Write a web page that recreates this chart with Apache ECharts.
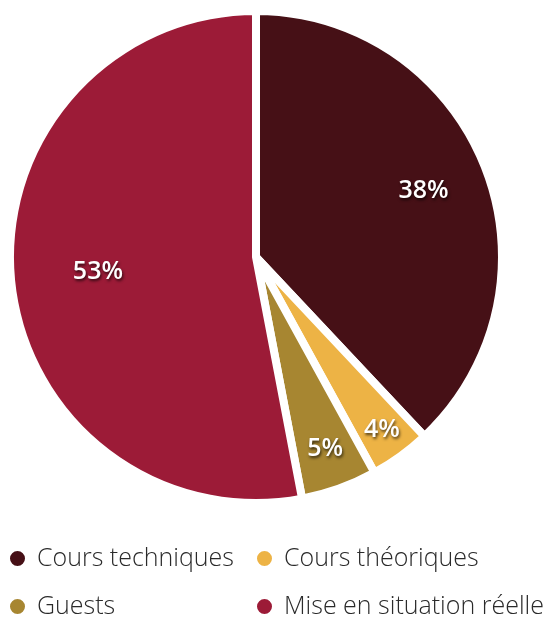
<!DOCTYPE html>
<html>
<head>
<meta charset="utf-8">
<script src="https://cdn.jsdelivr.net/npm/echarts@6/dist/echarts.min.js"></script>
<style>
html,body{margin:0;padding:0;background:#fff;}
#chart{width:560px;height:619px;}
</style>
</head>
<body>
<div id="chart"></div>
<script>
const categories = ['Cours techniques', 'Cours théoriques', 'Guests', 'Mise en situation réelle'];
const values = [38, 4, 5, 53];
const colors = ['#461016', '#EDB345', '#A78631', '#9C1B37'];
const labelRadiusFactor = [1.43, 1.70, 1.62, 1.26];
const legendSlots = [[8, 546], [255, 546], [8, 594], [255, 594]];

const cx = 256, cy = 257;
const chart = echarts.init(document.getElementById('chart'));
const legendText = { fontFamily: 'Open Sans', fontSize: 25, fontWeight: 300, color: '#2a2a2a', padding: [0, 0, 0, 6] };
chart.setOption({
  animation: false,
  legend: categories.map((n, i) => ({
    left: legendSlots[i][0], top: legendSlots[i][1], icon: 'circle', itemWidth: 17, itemHeight: 17,
    padding: 0, textStyle: legendText, data: [n]
  })),
  series: [{
    type: 'pie',
    center: [cx, cy],
    radius: [0, 246],
    startAngle: 90,
    clockwise: true,
    itemStyle: { borderColor: '#fff', borderWidth: 8 },
    label: {
      position: 'inside',
      formatter: '{c}%',
      color: '#fff',
      fontFamily: 'Open Sans',
      fontWeight: 600,
      fontSize: 25,
      textShadowColor: 'rgba(0,0,0,0.7)',
      textShadowBlur: 3,
      textShadowOffsetX: 1,
      textShadowOffsetY: 2
    },
    labelLine: { show: false },
    emphasis: { disabled: true },
    labelLayout: function (p) {
      const r = p.labelRect;
      const lx = r.x + r.width / 2, ly = r.y + r.height / 2;
      const k = labelRadiusFactor[p.dataIndex];
      return { x: cx + (lx - cx) * k, y: cy + (ly - cy) * k };
    },
    data: categories.map((n, i) => ({ name: n, value: values[i], itemStyle: { color: colors[i] } }))
  }]
});
</script>
</body>
</html>
